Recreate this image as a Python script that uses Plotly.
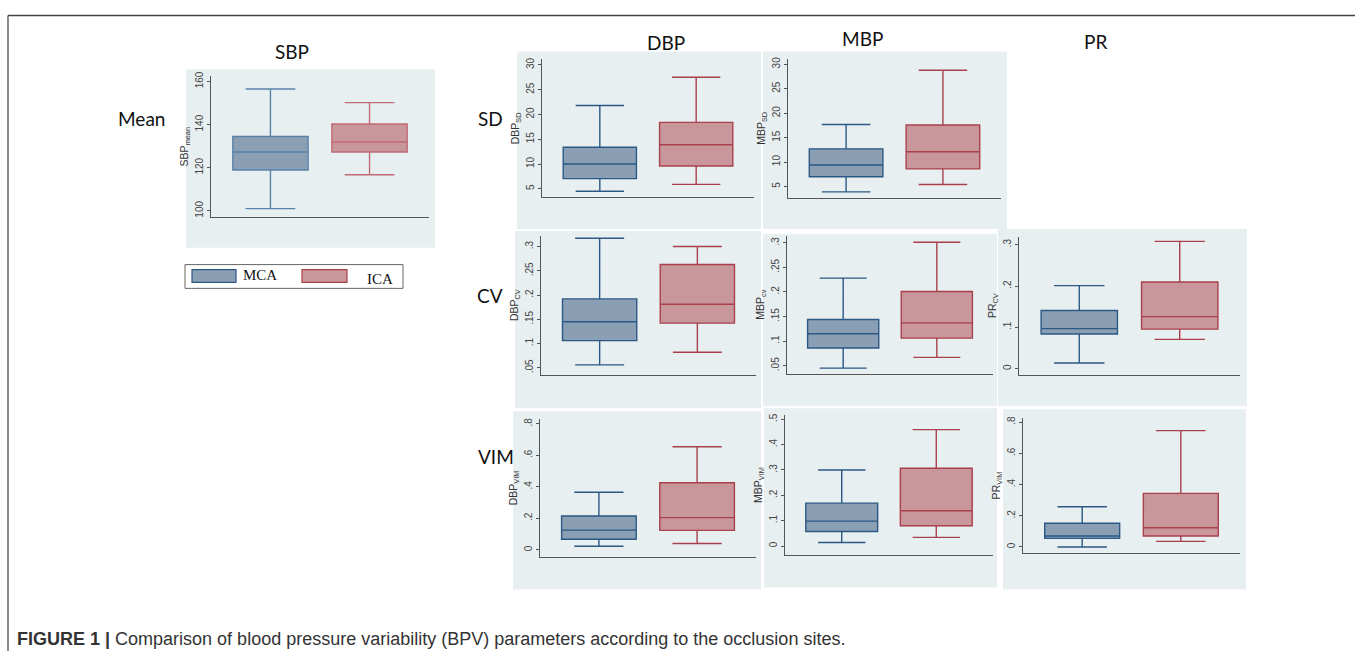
import plotly.graph_objects as go

W, H = 1355, 652

# ---------------- data ----------------
groups = ["MCA", "ICA"]
# each list: [lower whisker, Q1, median, Q3, upper whisker]
sbp_mean_mca = [101.0, 118.9, 127.3, 134.5, 156.5]
sbp_mean_ica = [116.7, 127.3, 131.9, 140.3, 150.2]
dbp_sd_mca = [4.5, 7.05, 10.0, 13.4, 21.8]
dbp_sd_ica = [5.9, 9.6, 13.9, 18.4, 27.5]
mbp_sd_mca = [3.9, 7.0, 9.4, 12.7, 17.7]
mbp_sd_ica = [5.4, 8.6, 12.1, 17.6, 28.8]
dbp_cv_mca = [0.056, 0.106, 0.145, 0.192, 0.317]
dbp_cv_ica = [0.082, 0.142, 0.181, 0.263, 0.300]
mbp_cv_mca = [0.045, 0.086, 0.115, 0.144, 0.228]
mbp_cv_ica = [0.067, 0.106, 0.137, 0.201, 0.301]
pr_cv_mca = [0.014, 0.084, 0.097, 0.141, 0.201]
pr_cv_ica = [0.071, 0.096, 0.126, 0.210, 0.308]
dbp_vim_mca = [0.023, 0.068, 0.126, 0.215, 0.366]
dbp_vim_ica = [0.041, 0.124, 0.205, 0.426, 0.655]
mbp_vim_mca = [0.014, 0.057, 0.098, 0.169, 0.300]
mbp_vim_ica = [0.034, 0.080, 0.139, 0.307, 0.459]
pr_vim_mca = [0.000, 0.055, 0.070, 0.152, 0.258]
pr_vim_ica = [0.036, 0.070, 0.123, 0.343, 0.745]

sbp_ticks = [100, 120, 140, 160]
sbp_ticklabels = ["100", "120", "140", "160"]
sd_ticks = [5, 10, 15, 20, 25, 30]
sd_ticklabels = ["5", "10", "15", "20", "25", "30"]
cv_ticks = [0.05, 0.1, 0.15, 0.2, 0.25, 0.3]
cv_ticklabels = [".05", ".1", ".15", ".2", ".25", ".3"]
pr_cv_ticks = [0, 0.1, 0.2, 0.3]
pr_cv_ticklabels = ["0", ".1", ".2", ".3"]
vim_ticks = [0, 0.2, 0.4, 0.6, 0.8]
vim_ticklabels = ["0", ".2", ".4", ".6", ".8"]
mbp_vim_ticks = [0, 0.1, 0.2, 0.3, 0.4, 0.5]
mbp_vim_ticklabels = ["0", ".1", ".2", ".3", ".4", ".5"]

col_titles = ["SBP", "DBP", "MBP", "PR"]
row_titles = ["Mean", "SD", "CV", "VIM"]
caption_bold = "FIGURE 1 |"
caption_text = "Comparison of blood pressure variability (BPV) parameters according to the occlusion sites."

# ---------------- styles ----------------
MCA_FILL = "#8b9fb4"
MCA_LINE = "#2b5884"
ICA_FILL = "#c9969b"
ICA_LINE = "#a9414c"
PANEL_BG = "#e7eff1"
GRID = "#e9eff1"
AXIS = "#555555"

# panels: (stats mca, stats ica, y title, yrange, ticks, ticklabels, plot box px, bg box px, light)
panels = [
    (sbp_mean_mca, sbp_mean_ica, "SBP<sub>mean</sub>", [97.1, 162.4], sbp_ticks, sbp_ticklabels,
     (211, 72, 429, 214), (186, 65, 435, 245), True),
    (dbp_sd_mca, dbp_sd_ica, "DBP<sub>SD</sub>", [3.3, 31.1], sd_ticks, sd_ticklabels,
     (542, 55, 754, 194), (517, 47, 761, 226), False),
    (mbp_sd_mca, mbp_sd_ica, "MBP<sub>SD</sub>", [2.6, 31.2], sd_ticks, sd_ticklabels,
     (788, 54, 1001, 195), (763, 47, 1007, 226), False),
    (dbp_cv_mca, dbp_cv_ica, "DBP<sub>CV</sub>", [0.036, 0.322], cv_ticks, cv_ticklabels,
     (541, 233, 756, 373), (515, 228, 761, 407), False),
    (mbp_cv_mca, mbp_cv_ica, "MBP<sub>cv</sub>", [0.034, 0.314], cv_ticks, cv_ticklabels,
     (787, 233, 993, 372), (763, 231, 997, 405), False),
    (pr_cv_mca, pr_cv_ica, "PR<sub>CV</sub>", [-0.014, 0.319], pr_cv_ticks, pr_cv_ticklabels,
     (1019, 234, 1240, 373), (998, 226, 1247, 405), False),
    (dbp_vim_mca, dbp_vim_ica, "DBP<sub>VIM</sub>", [-0.044, 0.83], vim_ticks, vim_ticklabels,
     (540, 418, 756, 557), (513, 410, 761, 590), False),
    (mbp_vim_mca, mbp_vim_ica, "MBP<sub>VIM</sub>", [-0.035, 0.516], mbp_vim_ticks, mbp_vim_ticklabels,
     (785, 414, 993, 555), (764, 407, 997, 588), False),
    (pr_vim_mca, pr_vim_ica, "PR<sub>VIM</sub>", [-0.038, 0.825], vim_ticks, vim_ticklabels,
     (1023, 417, 1240, 553), (1003, 408, 1246, 590), False),
]


def px(x):
    return x / W


def py(y):
    return 1 - y / H


fig = go.Figure()
shapes = []
annotations = []

for i, (smca, sica, ytitle, yr, tv, tt, pbox, bgbox, light) in enumerate(panels):
    n = "" if i == 0 else str(i + 1)
    xa, ya = "x" + n, "y" + n
    # panel background
    shapes.append(dict(type="rect", xref="paper", yref="paper",
                       x0=px(bgbox[0]), x1=px(bgbox[2]), y0=py(bgbox[3]), y1=py(bgbox[1]),
                       fillcolor=PANEL_BG, line=dict(width=0), layer="below"))
    for gi, (g, st) in enumerate(zip(groups, [smca, sica])):
        fill = MCA_FILL if g == "MCA" else ICA_FILL
        line = MCA_LINE if g == "MCA" else ICA_LINE
        if light:
            line = "#5a83aa" if g == "MCA" else "#c06b75"
        fig.add_trace(go.Box(
            x=[gi + 1], lowerfence=[st[0]], q1=[st[1]], median=[st[2]], q3=[st[3]], upperfence=[st[4]],
            width=0.76, whiskerwidth=0.66, boxpoints=False,
            fillcolor=fill, line=dict(color=line, width=1.4),
            name=g, showlegend=False, hoverinfo="skip",
            xaxis=xa, yaxis=ya))
    xkey = "xaxis" + n
    ykey = "yaxis" + n
    fig.update_layout(**{
        xkey: dict(domain=[px(pbox[0]), px(pbox[2])], range=[0.4, 2.6], anchor=ya,
                   showgrid=False, zeroline=False, showticklabels=False, ticks="",
                   showline=True, linecolor=AXIS, linewidth=1, fixedrange=True),
        ykey: dict(domain=[py(pbox[3]), py(pbox[1])], range=yr, anchor=xa,
                   tickvals=tv, ticktext=tt, tickangle=-90, ticks="outside", ticklen=3,
                   tickcolor=AXIS, tickfont=dict(family="Liberation Sans, Arial", size=10, color="#444"),
                   showgrid=True, gridcolor=GRID, gridwidth=1.5, zeroline=False,
                   showline=True, linecolor=AXIS, linewidth=1,
                   title=dict(text=ytitle, font=dict(family="Liberation Sans, Arial", size=10.5, color="#333"),
                              standoff=3),
                   fixedrange=True),
    })

# column and row titles
title_font = dict(family="Lato, Open Sans", size=19, color="#111")
for txt, (x, y) in zip(col_titles, [(292, 47), (666, 38), (862, 34), (1095, 37)]):
    annotations.append(dict(text=txt, x=px(x), y=py(y), xref="paper", yref="paper",
                            showarrow=False, font=title_font, xanchor="center", yanchor="middle"))
for txt, (x, y) in zip(row_titles, [(141, 115), (491, 115), (490, 293), (496, 456)]):
    annotations.append(dict(text=txt, x=px(x), y=py(y), xref="paper", yref="paper",
                            showarrow=False, font=title_font, xanchor="center", yanchor="middle"))

# legend (drawn manually)
shapes.append(dict(type="rect", xref="paper", yref="paper", x0=px(185), x1=px(403), y0=py(286), y1=py(262),
                   fillcolor="white", line=dict(color="#666", width=1)))
shapes.append(dict(type="rect", xref="paper", yref="paper", x0=px(192), x1=px(236), y0=py(280), y1=py(267),
                   fillcolor=MCA_FILL, line=dict(color=MCA_LINE, width=1.2)))
shapes.append(dict(type="rect", xref="paper", yref="paper", x0=px(302), x1=px(347), y0=py(280), y1=py(267),
                   fillcolor=ICA_FILL, line=dict(color=ICA_LINE, width=1.2)))
leg_font = dict(family="Liberation Serif, Times New Roman", size=15, color="#111")
annotations.append(dict(text=groups[0], x=px(241), y=py(273), xref="paper", yref="paper", showarrow=False,
                        font=leg_font, xanchor="left", yanchor="middle"))
annotations.append(dict(text=groups[1], x=px(365), y=py(277), xref="paper", yref="paper", showarrow=False,
                        font=leg_font, xanchor="left", yanchor="middle"))

# frame lines
shapes.append(dict(type="line", xref="paper", yref="paper", x0=px(8), x1=1, y0=py(10.5), y1=py(10.5),
                   line=dict(color="#444", width=1.5)))
shapes.append(dict(type="line", xref="paper", yref="paper", x0=px(8), x1=px(8), y0=0, y1=py(10.5),
                   line=dict(color="#666", width=1.5)))

# caption
annotations.append(dict(text="<b>" + caption_bold + "</b> " + caption_text, x=px(15), y=py(640),
                        xref="paper", yref="paper", showarrow=False, xanchor="left", yanchor="middle",
                        font=dict(family="Liberation Sans, Arial", size=18, color="#333")))

fig.update_layout(width=W, height=H, margin=dict(l=0, r=0, t=0, b=0),
                  paper_bgcolor="white", plot_bgcolor="white",
                  shapes=shapes, annotations=annotations, showlegend=False)

fig.write_html("out.html", config={"displayModeBar": False},
               post_script=("document.body.style.margin='0';document.body.style.overflow='hidden';"
                            "document.querySelectorAll('.plotly-graph-div').forEach(function(d){"
                            "d.style.position='absolute';d.style.top='0px';d.style.left='0px';});"))
